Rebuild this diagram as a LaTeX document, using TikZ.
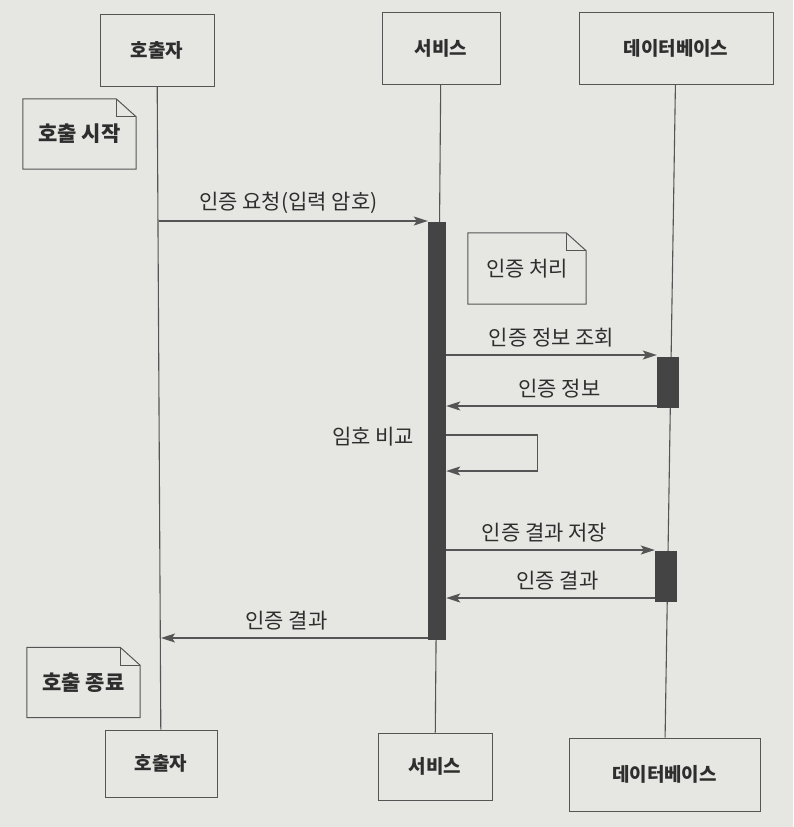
\documentclass[tikz,border=0pt]{standalone}
\usepackage{fontspec}
\setmainfont{Noto Sans CJK KR}
\usepackage{xcolor}
\usetikzlibrary{calc, arrows.meta, positioning}
\definecolor{paper}{HTML}{E6E7E3}
\definecolor{ink}{HTML}{555555}
\definecolor{barfill}{HTML}{444444}
\definecolor{word}{HTML}{2E2E2E}
\tikzset{
    lifebox/.style = {draw=ink, rectangle, line width=1pt, fill=none, 
      font=\fontsize{19}{22}\selectfont\bfseries, text=word},
    actbar/.style = {draw=none, fill=barfill, rectangle, inner sep=0pt},
    notenode/.style = {draw=none, rectangle, minimum width=113pt, minimum height=70pt, 
      font=\fontsize{21}{24}\selectfont\bfseries, text=word},
    msgtext/.style = {draw=none, fill=none, inner sep=0pt, font=\fontsize{21}{24}\selectfont, text=word},
    lifeline/.style = {ink, line width=1.1pt},
    connect/.style = {ink, line width=1.4pt, -{Stealth[length=14pt, width=9pt, inset=3pt]}}
}
\newcommand{\notefold}[1]{%
    \draw [ink, line width=1pt] (#1.north west) -- ([xshift=-20pt]#1.north east) 
        -- ([yshift=-18pt]#1.north east) -- (#1.south east) -- (#1.south west) -- cycle;
    \draw [ink, line width=1pt] ([xshift=-20pt]#1.north east) 
        -- ([xshift=-20pt, yshift=-18pt]#1.north east) -- ([yshift=-18pt]#1.north east);
}

\begin{document}
\begin{tikzpicture}[x=1pt, y=-1pt]
    \fill [paper] (0,0) rectangle (793,827);
    \useasboundingbox (0,0) rectangle (793,827);

    % participants
    \node [name=caller, lifebox, minimum width=114pt, minimum height=72pt] at (157,50) {호출자};
    \node [name=service, lifebox, minimum width=118pt, minimum height=72pt] at (441,48) {서비스};
    \node [name=database, lifebox, minimum width=194pt, minimum height=72pt] at (676,48) {데이터베이스};

    \node [name=callerb, lifebox, minimum width=112pt, minimum height=67pt] at (161,763.5) {호출자};
    \node [name=serviceb, lifebox, minimum width=114pt, minimum height=67pt] at (435,766.5) {서비스};
    \node [name=databaseb, lifebox, minimum width=191pt, minimum height=73pt] at (664.5,774.5) {데이터베이스};

    \draw [lifeline] (caller) -- (callerb);
    \draw [lifeline] (service) -- (serviceb);
    \draw [lifeline] (database) -- (databaseb);

    % activations
    \node [name=actsvc, actbar, minimum width=18pt, minimum height=418pt] at (437,431) {};
    \node [name=actdbq, actbar, minimum width=22pt, minimum height=51pt] at (668,382.5) {};
    \node [name=actdbs, actbar, minimum width=22pt, minimum height=51pt] at (666,576.5) {};

    % notes
    \node [name=notestart, notenode] at (79.5,134) {호출 시작};
    \notefold{notestart}
    \node [name=noteproc, notenode, minimum width=118pt, minimum height=71pt, 
        font=\fontsize{21}{24}\selectfont] at (527,268.5) {인증 처리};
    \notefold{noteproc}
    \node [name=noteend, notenode] at (83.5,682.5) {호출 종료};
    \notefold{noteend}

    % messages
    \coordinate (request) at (159,221);
    \coordinate (query) at (0,355);
    \coordinate (info) at (0,406);
    \coordinate (cmpa) at (0,435);
    \coordinate (cmpb) at (0,471);
    \coordinate (store) at (0,550);
    \coordinate (result) at (0,598);
    \coordinate (reply) at (161,638);

    \draw [connect] (request) -- (request -| actsvc.west) 
        node [msgtext, midway, above, xshift=-5pt, yshift=7pt] {인증 요청(입력 암호)};
    \draw [connect] (actsvc.east |- query) -- (actdbq.west |- query) 
        node [msgtext, midway, above, yshift=7pt] {인증 정보 조회};
    \draw [connect] (actdbq.west |- info) -- (actsvc.east |- info) 
        node [msgtext, midway, above, xshift=8pt, yshift=7pt] {인증 정보};
    \draw [connect] (actsvc.east |- cmpa) -- ++(91,0) |- (actsvc.east |- cmpb);
    \node [name=cmplabel, msgtext] at (373,437) {임호 비교};
    \draw [connect] (actsvc.east |- store) -- (actdbs.west |- store) 
        node [msgtext, midway, above, xshift=-6pt, yshift=7pt] {인증 결과 저장};
    \draw [connect] (actdbs.west |- result) -- (actsvc.east |- result) 
        node [msgtext, midway, above, xshift=7pt, yshift=7pt] {인증 결과};
    \draw [connect] (actsvc.west |- reply) -- (reply) 
        node [msgtext, midway, above, xshift=-8pt, yshift=7pt] {인증 결과};
\end{tikzpicture}
\end{document}
